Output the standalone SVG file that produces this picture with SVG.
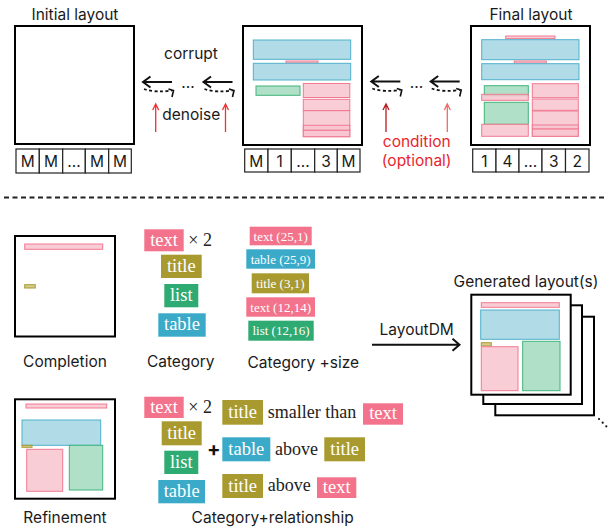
<svg xmlns="http://www.w3.org/2000/svg" width="610" height="529" viewBox="0 0 610 529">
<defs>
<style>
.t{font-family:Inter,"Liberation Sans",sans-serif;font-size:15.5px;fill:#1a1a1a;text-anchor:middle}
.r{font-family:Inter,"Liberation Sans",sans-serif;font-size:15.5px;fill:#e8262e;text-anchor:middle}
.frame{fill:#fff;stroke:#000;stroke-width:2}
.cell{fill:#fff;stroke:#222;stroke-width:1.2}
.bl{fill:#b1dbe6;stroke:#4fb1cc;stroke-width:1}
.pk{fill:#f8c4cf;fill-opacity:.85;stroke:#f07a92;stroke-width:1}
.gr{fill:#b0e0c8;stroke:#40b47c;stroke-width:1}
.ol{fill:#d6cc8a;stroke:#a99a32;stroke-width:1}
.tag{font-family:"Liberation Serif",serif;font-size:18.5px;fill:#fff;text-anchor:middle}
.tag2{font-family:"Liberation Serif",serif;font-size:13px;fill:#fff;text-anchor:middle}
.ser{font-family:"Liberation Serif",serif;font-size:18px;fill:#222}
.cT{fill:#f2738b}.cTi{fill:#a99a30}.cL{fill:#2eaa73}.cB{fill:#3aaac8}
.ar{fill:none;stroke:#111;stroke-width:2}
.da{fill:none;stroke:#111;stroke-width:1.8;stroke-dasharray:3 2.5}
.rd{fill:none;stroke-width:1.3}
</style>
<g id="pair">
<path class="ar" d="M0 0 H29 M7.5 -5.5 L0 0 L7.5 5.5"/>
<path class="da" d="M1 7 Q12 11 29 8.5"/>
<path class="ar" d="M25.5 7 L30.5 8.5 L29 15" style="stroke-width:1.6"/>
</g>
</defs>

<!-- Top row -->
<g id="initial-layout">
<text class="t" x="75" y="20">Initial layout</text>
<rect class="frame" x="15" y="26" width="119" height="118"/>
<rect class="cell" x="16" y="149" width="23.3" height="24"/>
<rect class="cell" x="39.3" y="149" width="23.4" height="24"/>
<rect class="cell" x="62.7" y="149" width="22.6" height="24"/>
<rect class="cell" x="85.3" y="149" width="23.4" height="24"/>
<rect class="cell" x="108.7" y="149" width="22.6" height="24"/>
<text class="t" x="27.7" y="166.5">M</text>
<text class="t" x="51" y="166.5">M</text>
<text class="t" x="74" y="166.5">...</text>
<text class="t" x="97" y="166.5">M</text>
<text class="t" x="120" y="166.5">M</text>
</g>

<g id="intermediate-layout">
<rect class="frame" x="243" y="26" width="119" height="119"/>
<rect class="bl" x="253.3" y="40" width="97.4" height="19.3"/>
<rect class="pk" x="286" y="61" width="32" height="2"/>
<rect class="bl" x="253.3" y="63.3" width="97.4" height="16.7"/>
<rect class="gr" x="256" y="86" width="44" height="9.3"/>
<rect class="pk" x="303.3" y="83.5" width="46.5" height="14"/>
<rect class="pk" x="303.3" y="99.3" width="46.5" height="11.2"/>
<rect class="pk" x="303.3" y="110.7" width="46.5" height="26"/>
<rect class="pk" x="303.3" y="125.3" width="46.5" height="5"/>
<rect class="pk" x="303.3" y="130.3" width="46.5" height="6.4"/>
<rect class="cell" x="244.7" y="149" width="23.3" height="23"/>
<rect class="cell" x="268" y="149" width="23.3" height="23"/>
<rect class="cell" x="291.3" y="149" width="23.4" height="23"/>
<rect class="cell" x="314.7" y="149" width="22.6" height="23"/>
<rect class="cell" x="337.3" y="149" width="22.7" height="23"/>
<text class="t" x="256.3" y="166.5">M</text>
<text class="t" x="279.6" y="166.5">1</text>
<text class="t" x="303" y="166.5">...</text>
<text class="t" x="326" y="166.5">3</text>
<text class="t" x="348.6" y="166.5">M</text>
</g>

<g id="final-layout">
<text class="t" x="531" y="20">Final layout</text>
<rect class="frame" x="471" y="26" width="119" height="119"/>
<rect class="pk" x="505.7" y="36" width="49.3" height="2.6"/>
<rect class="bl" x="481.7" y="39.7" width="97.3" height="20"/>
<rect class="pk" x="514.3" y="61" width="32" height="2"/>
<rect class="bl" x="481.7" y="63.7" width="97.3" height="16"/>
<rect class="gr" x="484.3" y="85.7" width="44" height="10"/>
<rect class="pk" x="481.7" y="94.3" width="46.6" height="6"/>
<rect class="gr" x="484.3" y="102.3" width="44" height="22"/>
<rect class="pk" x="481.7" y="124.3" width="46.6" height="12"/>
<rect class="pk" x="532.3" y="83.7" width="46" height="14"/>
<rect class="pk" x="532.3" y="99" width="46" height="11.3"/>
<rect class="pk" x="532.3" y="111" width="46" height="25.3"/>
<rect class="pk" x="532.3" y="125" width="46" height="4"/>
<rect class="pk" x="532.3" y="129" width="46" height="7.3"/>
<rect class="cell" x="472.7" y="149" width="23.3" height="23"/>
<rect class="cell" x="496" y="149" width="23" height="23"/>
<rect class="cell" x="519" y="149" width="23" height="23"/>
<rect class="cell" x="542" y="149" width="23.5" height="23"/>
<rect class="cell" x="565.5" y="149" width="23.5" height="23"/>
<text class="t" x="484.3" y="166.5">1</text>
<text class="t" x="507.5" y="166.5">4</text>
<text class="t" x="530.5" y="166.5">...</text>
<text class="t" x="553.7" y="166.5">3</text>
<text class="t" x="577.2" y="166.5">2</text>
</g>

<g id="connectors">
<text class="t" x="191" y="59">corrupt</text>
<use href="#pair" x="143" y="82"/>
<text class="t" x="188" y="88">...</text>
<use href="#pair" x="203.5" y="82"/>
<path class="rd" stroke="#f03232" d="M155.7 132 V104 M152.7 110 L155.7 104 L158.7 110"/>
<path class="rd" stroke="#f03232" d="M225.5 132 V104 M222.5 110 L225.5 104 L228.5 110"/>
<text class="t" x="191.3" y="120">denoise</text>

<use href="#pair" x="371.3" y="81.5"/>
<text class="t" x="416.5" y="87.5">...</text>
<use href="#pair" x="430.7" y="81.5"/>
<path class="rd" stroke="#b81c1c" d="M386 132 V104 M383 110 L386 104 L389 110"/>
<path class="rd" stroke="#f06a6a" d="M447.3 132 V104 M444.3 110 L447.3 104 L450.3 110"/>
<text class="r" x="416.7" y="146.5">condition</text>
<text class="r" x="416.7" y="166">(optional)</text>

<line x1="4" y1="197.5" x2="606" y2="197.5" stroke="#222" stroke-width="2" stroke-dasharray="5 3.5"/>

<text class="t" x="416.7" y="335">LayoutDM</text>
<path class="ar" d="M372 344.7 H459.5 M452.5 338.7 L459.5 344.7 L452.5 350.7"/>
</g>

<!-- Bottom section -->
<g id="completion">
<rect class="frame" x="15" y="236" width="100" height="100.5"/>
<rect class="pk" x="24.7" y="244" width="78" height="5.3"/>
<rect class="ol" x="24.7" y="284.7" width="10.6" height="3.3"/>
<text class="t" x="65" y="367">Completion</text>
</g>

<g id="refinement">
<rect class="frame" x="15" y="399.3" width="100" height="99.4"/>
<rect class="pk" x="26" y="404" width="80.7" height="4"/>
<rect class="bl" x="22" y="420" width="78.7" height="25.3"/>
<rect class="ol" x="22" y="445.3" width="10" height="2"/>
<rect class="pk" x="26.7" y="449.3" width="36" height="42"/>
<rect class="gr" x="69.3" y="445.3" width="33.4" height="44.7"/>
<text class="t" x="65" y="522.5">Refinement</text>
</g>

<g id="category">
<rect class="cT" x="144.3" y="229.3" width="39.4" height="22"/>
<text class="tag" x="164" y="246">text</text>
<text class="ser" x="188.3" y="245.5">× 2</text>
<rect class="cTi" x="161" y="254.7" width="40.7" height="23.3"/>
<text class="tag" x="181.3" y="271.5">title</text>
<rect class="cL" x="164.3" y="284" width="34" height="23.3"/>
<text class="tag" x="181.3" y="300.8">list</text>
<rect class="cB" x="158.3" y="313.3" width="47.4" height="23.4"/>
<text class="tag" x="182" y="330">table</text>
<text class="t" x="180.7" y="366.7">Category</text>
</g>

<g id="category-size">
<rect class="cT" x="249.7" y="226.7" width="62" height="18.6"/>
<text class="tag2" x="280.7" y="240.5">text (25,1)</text>
<rect class="cB" x="246.3" y="249.3" width="68.7" height="19.4"/>
<text class="tag2" x="280.7" y="263.5">table (25,9)</text>
<rect class="cTi" x="251.7" y="273.3" width="57.3" height="20"/>
<text class="tag2" x="280.3" y="287.5">title (3,1)</text>
<rect class="cT" x="246.3" y="297.3" width="68.7" height="19.4"/>
<text class="tag2" x="280.7" y="311.5">text (12,14)</text>
<rect class="cL" x="248.3" y="320.7" width="65.4" height="20"/>
<text class="tag2" x="281" y="335">list (12,16)</text>
<text class="t" x="303.3" y="368">Category +size</text>
</g>

<g id="category-relationship">
<rect class="cT" x="144.3" y="396.7" width="39.4" height="21.3"/>
<text class="tag" x="164" y="413">text</text>
<text class="ser" x="188.3" y="412.7">× 2</text>
<rect class="cTi" x="161.7" y="421.3" width="40" height="24"/>
<text class="tag" x="181.7" y="438.5">title</text>
<rect class="cL" x="164.3" y="450.7" width="34" height="23.3"/>
<text class="tag" x="181.3" y="467.5">list</text>
<rect class="cB" x="158.3" y="480" width="46.7" height="23.3"/>
<text class="tag" x="181.7" y="497">table</text>
<text x="213.7" y="455.5" style="font-family:Inter,'Liberation Sans',sans-serif;font-size:20px;font-weight:bold;fill:#111;text-anchor:middle">+</text>

<rect class="cTi" x="222.3" y="400" width="40.7" height="24.7"/>
<text class="tag" x="242.7" y="417.5">title</text>
<text class="ser" x="267.7" y="418">smaller than</text>
<rect class="cT" x="363" y="403.3" width="40" height="21.4"/>
<text class="tag" x="383" y="419">text</text>

<rect class="cB" x="222.3" y="437.3" width="48" height="24"/>
<text class="tag" x="246.3" y="454.5">table</text>
<text class="ser" x="275" y="454.7">above</text>
<rect class="cTi" x="324.3" y="437.3" width="40.7" height="24"/>
<text class="tag" x="344.7" y="454.5">title</text>

<rect class="cTi" x="222.3" y="474" width="40.7" height="24"/>
<text class="tag" x="242.7" y="491.5">title</text>
<text class="ser" x="267.7" y="491.3">above</text>
<rect class="cT" x="317" y="477.3" width="39.3" height="20.7"/>
<text class="tag" x="336.7" y="493">text</text>
<text class="t" x="272.7" y="522.5">Category+relationship</text>
</g>

<g id="generated-layouts">
<text class="t" x="526" y="286.5">Generated layout(s)</text>
<rect class="frame" x="495.3" y="316.7" width="98.7" height="98.6"/>
<rect class="frame" x="483.3" y="305.3" width="98.7" height="98.7"/>
<rect class="frame" x="471.3" y="294.7" width="99.4" height="100"/>
<rect class="pk" x="481.3" y="302.7" width="78" height="4.6"/>
<rect class="bl" x="480.7" y="310" width="78.6" height="29.3"/>
<rect class="ol" x="481.3" y="342.7" width="10" height="3.3"/>
<rect class="pk" x="481.3" y="346.7" width="36.7" height="44"/>
<rect class="gr" x="522.7" y="341.3" width="37.3" height="49.4"/>
<circle cx="599" cy="419" r="1.1" fill="#111"/>
<circle cx="602.7" cy="422.7" r="1.1" fill="#111"/>
<circle cx="606.3" cy="426.3" r="1.1" fill="#111"/>
</g>
</svg>
